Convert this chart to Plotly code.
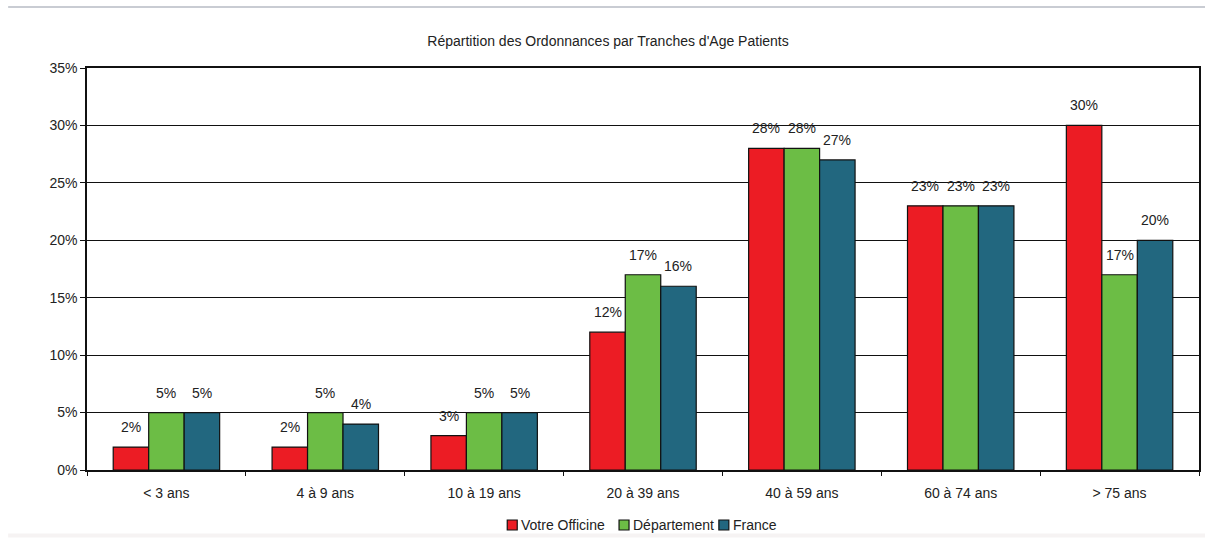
import plotly.graph_objects as go

categories = ["< 3 ans", "4 à 9 ans", "10 à 19 ans", "20 à 39 ans",
              "40 à 59 ans", "60 à 74 ans", "> 75 ans"]
votre_officine = [2, 2, 3, 12, 28, 23, 30]
departement = [5, 5, 5, 17, 28, 23, 17]
france = [5, 4, 5, 16, 27, 23, 20]
y_ticks = [0, 5, 10, 15, 20, 25, 30, 35]

series = [
    ("Votre Officine", votre_officine, "#ec1c24"),
    ("Département", departement, "#6cbd45"),
    ("France", france, "#22677f"),
]

FONT = "Liberation Sans, Arial, sans-serif"
TXT = "#222222"
BARGAP = 0.33

W, H = 1205, 538
ML, MR, MT, MB = 87, 4, 68, 68
PW, PH = W - ML - MR, H - MT - MB

fig = go.Figure()
for name, vals, color in series:
    fig.add_trace(go.Bar(
        x=categories, y=vals, name=name,
        marker=dict(color=color, line=dict(color="#111111", width=1.2)),
        showlegend=False,
    ))

# value labels above each bar, placed on the grouped-bar slots
n = len(series)
slot = (1 - BARGAP) / n
annotations = []
for i, (name, vals, color) in enumerate(series):
    off = (i - (n - 1) / 2) * slot
    for j, v in enumerate(vals):
        annotations.append(dict(
            x=j + off, y=v, xref="x", yref="y", text=f"{v}%",
            showarrow=False, yanchor="bottom", yshift=10,
            font=dict(family=FONT, size=14, color=TXT),
        ))

# legend drawn as small bordered squares followed by labels
def px_x(px):
    return (px - ML) / PW

def px_y(py):
    return (H - MB - py) / PH

legend_items = [("Votre Officine", "#ec1c24", 508), ("Département", "#6cbd45", 620),
                ("France", "#22677f", 720)]
shapes = [
    dict(type="line", xref="paper", yref="paper", x0=px_x(8), x1=px_x(1210),
         y0=px_y(7), y1=px_y(7), line=dict(color="#c9ccd3", width=2)),
    dict(type="line", xref="paper", yref="paper", x0=px_x(8), x1=px_x(1210),
         y0=px_y(535.5), y1=px_y(535.5), line=dict(color="#f6f3f3", width=4)),
]
LY = 525
for label, color, x0 in legend_items:
    shapes.append(dict(type="rect", xref="paper", yref="paper",
                       x0=px_x(x0), x1=px_x(x0 + 10), y0=px_y(LY - 5), y1=px_y(LY + 5),
                       fillcolor=color, line=dict(color="#111111", width=1.2)))
    annotations.append(dict(x=px_x(x0 + 12), y=px_y(LY), xref="paper", yref="paper",
                            text=label, showarrow=False, xanchor="left", yanchor="middle",
                            font=dict(family=FONT, size=14, color=TXT)))

fig.update_layout(
    width=W, height=H,
    margin=dict(l=ML, r=MR, t=MT, b=MB),
    paper_bgcolor="white", plot_bgcolor="white",
    barmode="group", bargap=BARGAP, bargroupgap=0,
    font=dict(family=FONT, size=14, color=TXT),
    title=dict(text="Répartition des Ordonnances par Tranches d'Age Patients",
               x=608 / W, xref="container", xanchor="center", y=1 - 41 / H, yanchor="middle",
               font=dict(family=FONT, size=14, color=TXT)),
    showlegend=False,
    xaxis=dict(type="category", showline=True, linecolor="#111111", linewidth=1.5,
               mirror=True, ticks="outside", ticklen=4, tickcolor="#111111",
               tickson="boundaries", showgrid=False, ticklabelstandoff=9,
               tickfont=dict(family=FONT, size=14, color=TXT)),
    yaxis=dict(range=[0, 35], tickvals=y_ticks, ticktext=[f"{t}%" for t in y_ticks],
               showline=True, linecolor="#111111", linewidth=1.5, mirror=True,
               ticks="outside", ticklen=5, tickcolor="#111111",
               showgrid=True, gridcolor="#111111", gridwidth=1, zeroline=False,
               tickfont=dict(family=FONT, size=14, color=TXT)),
    shapes=shapes,
    annotations=annotations,
)

fig.write_html("out.html")
